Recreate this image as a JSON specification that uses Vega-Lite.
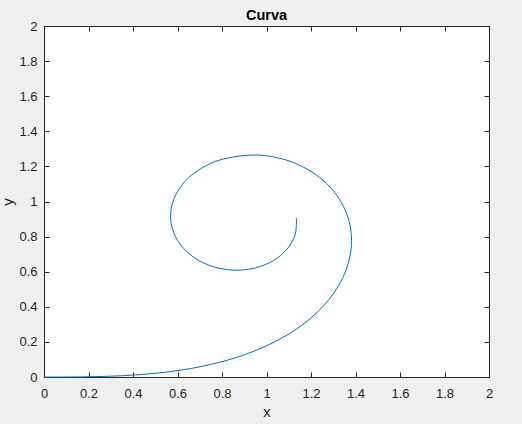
{
  "$schema": "https://vega.github.io/schema/vega-lite/v6.json",
  "width": 445,
  "height": 351,
  "autosize": {"type": "none"},
  "padding": {"left": 44, "top": 26, "right": 33, "bottom": 47},
  "background": "#f0f0f0",
  "view": {"fill": "white", "stroke": null},
  "title": {"text": "Curva", "font": "Liberation Sans", "fontSize": 14.5, "fontWeight": "bold", "color": "#000000", "anchor": "middle", "offset": -3},
  "config": {
    "axis": {
      "labelFont": "Liberation Sans",
      "labelFontSize": 13,
      "labelColor": "#262626",
      "labelFlush": false,
      "labelOverlap": false,
      "titleFont": "Liberation Sans",
      "titleFontSize": 15,
      "titleFontWeight": "normal",
      "titleColor": "#262626",
      "domainColor": "#262626",
      "tickColor": "#262626",
      "domainWidth": 1,
      "tickWidth": 1,
      "grid": false,
      "tickSize": -5
    }
  },
  "data": {
    "values": [
      {"t": 0.0, "x": 0, "y": 0},
      {"t": 0.1, "x": 0.17725, "y": 0.00089},
      {"t": 0.2, "x": 0.35431, "y": 0.00744},
      {"t": 0.3, "x": 0.53067, "y": 0.02499},
      {"t": 0.4, "x": 0.70455, "y": 0.0592},
      {"t": 0.5, "x": 0.87258, "y": 0.11468},
      {"t": 0.6, "x": 1.02997, "y": 0.19586},
      {"t": 0.7, "x": 1.16928, "y": 0.30504},
      {"t": 0.8, "x": 1.28113, "y": 0.44187},
      {"t": 0.9, "x": 1.35557, "y": 0.60228},
      {"t": 1.0, "x": 1.38234, "y": 0.77687},
      {"t": 1.1, "x": 1.3538, "y": 0.95092},
      {"t": 1.2, "x": 1.26801, "y": 1.10494},
      {"t": 1.3, "x": 1.13189, "y": 1.21643},
      {"t": 1.4, "x": 0.96262, "y": 1.26464},
      {"t": 1.5, "x": 0.78927, "y": 1.23628},
      {"t": 1.55, "x": 0.71217, "y": 1.19304},
      {"t": 1.6, "x": 0.64783, "y": 1.13242},
      {"t": 1.65, "x": 0.60051, "y": 1.0578},
      {"t": 1.7, "x": 0.57392, "y": 0.97343},
      {"t": 1.75, "x": 0.57055, "y": 0.88516},
      {"t": 1.8, "x": 0.59129, "y": 0.7992},
      {"t": 1.85, "x": 0.63525, "y": 0.72263},
      {"t": 1.9, "x": 0.69905, "y": 0.66166},
      {"t": 1.95, "x": 0.77811, "y": 0.62231},
      {"t": 2.0, "x": 0.86531, "y": 0.60866},
      {"t": 2.05, "x": 0.95251, "y": 0.62248},
      {"t": 2.1, "x": 1.03086, "y": 0.66343},
      {"t": 2.15, "x": 1.09165, "y": 0.72741},
      {"t": 2.2, "x": 1.12781, "y": 0.80771},
      {"t": 2.25, "x": 1.13456, "y": 0.89562},
      {"t": 2.2568, "x": 1.1331, "y": 0.9077}
    ]
  },
  "layer": [
    {
      "mark": {"type": "line", "color": "#0072BD", "strokeWidth": 1, "interpolate": "catmull-rom"},
      "encoding": {
        "x": {"field": "x", "type": "quantitative", "scale": {"domain": [0, 2], "nice": false, "zero": false},
              "axis": {"orient": "bottom", "values": [0, 0.2, 0.4, 0.6, 0.8, 1, 1.2, 1.4, 1.6, 1.8, 2], "format": "~g", "labelPadding": 15, "title": "x", "titlePadding": 4}},
        "y": {"field": "y", "type": "quantitative", "scale": {"domain": [0, 2], "nice": false, "zero": false},
              "axis": {"orient": "left", "values": [0, 0.2, 0.4, 0.6, 0.8, 1, 1.2, 1.4, 1.6, 1.8, 2], "format": "~g", "labelPadding": 12, "title": "y", "titlePadding": 3}},
        "order": {"field": "t", "type": "quantitative"}
      }
    },
    {
      "mark": {"type": "line", "strokeOpacity": 0, "interpolate": "linear"},
      "encoding": {
        "x": {"field": "x", "type": "quantitative", "scale": {"domain": [0, 2], "nice": false, "zero": false},
              "axis": {"orient": "top", "values": [0, 0.2, 0.4, 0.6, 0.8, 1, 1.2, 1.4, 1.6, 1.8, 2], "labels": false, "title": null}},
        "y": {"field": "y", "type": "quantitative", "scale": {"domain": [0, 2], "nice": false, "zero": false},
              "axis": {"orient": "right", "values": [0, 0.2, 0.4, 0.6, 0.8, 1, 1.2, 1.4, 1.6, 1.8, 2], "labels": false, "title": null}},
        "order": {"field": "t", "type": "quantitative"}
      }
    }
  ],
  "resolve": {"axis": {"x": "independent", "y": "independent"}}
}
